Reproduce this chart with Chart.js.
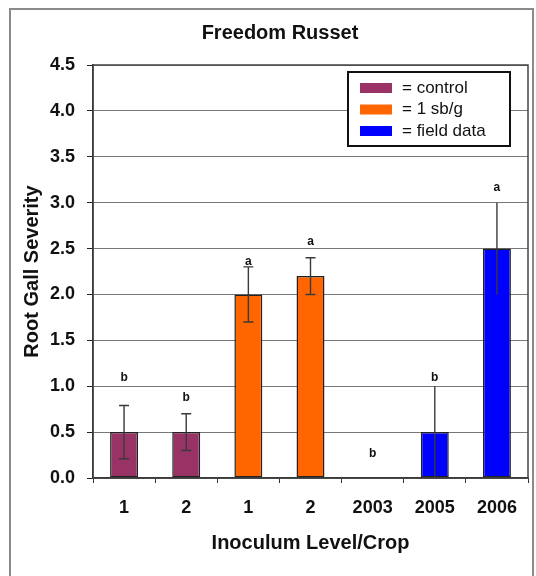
<!DOCTYPE html>
<html>
<head>
<meta charset="utf-8">
<script src="https://cdn.jsdelivr.net/npm/chart.js@4/dist/chart.umd.min.js"></script>
<style>
  html, body { margin: 0; padding: 0; background: #fff; }
  #wrap { position: relative; width: 536px; height: 576px; }
</style>
</head>
<body>
<div id="wrap"><canvas id="chart"></canvas></div>
<script>
// values
const categories = ["1", "2", "1", "2", "2003", "2005", "2006"];
const controlValues = [0.5, 0.5, null, null, null, null, null];
const sbValues = [null, null, 2.0, 2.2, null, null, null];
const fieldValues = [null, null, null, null, 0, 0.5, 2.5];
const errors = [0.29, 0.2, 0.3, 0.2, 0, 0.5, 0.5];
const letters = ["b", "b", "a", "a", "b", "b", "a"];
const letterHeights = [1.09, 0.87, 2.36, 2.58, 0.26, 1.09, 3.16];
const seriesNames = ["control", "1 sb/g", "field data"];
const yMin = 0, yMax = 4.5, yStep = 0.5;

const colors = ["#993366", "#ff6600", "#0000ff"];
const FONT = "'Liberation Sans', Arial, sans-serif";

// figure frame + plot frame
const framePlugin = {
  id: "frame",
  beforeDraw(chart) {
    const ctx = chart.ctx;
    ctx.save();
    ctx.strokeStyle = "#8a8a8a";
    ctx.lineWidth = 2;
    ctx.strokeRect(10, 9, 523, 600);
    ctx.restore();
  },
  afterDraw(chart) {
    const { ctx, chartArea: a } = chart;
    ctx.save();
    ctx.strokeStyle = "#444";
    ctx.lineWidth = 1.5;
    ctx.strokeRect(a.left, a.top, a.right - a.left, a.bottom - a.top);
    ctx.restore();
  }
};

// error bars and significance letters
const errorPlugin = {
  id: "errors",
  afterDatasetsDraw(chart) {
    const ctx = chart.ctx;
    const y = chart.scales.y, x = chart.scales.x;
    ctx.save();
    chart.data.datasets.forEach((ds, d) => {
      const meta = chart.getDatasetMeta(d);
      ds.data.forEach((v, i) => {
        if (v === null || !errors[i]) return;
        const px = meta.data[i].x;
        const top = y.getPixelForValue(v + errors[i]);
        const bot = y.getPixelForValue(Math.max(0, v - errors[i]));
        ctx.strokeStyle = "#3a3a3a";
        ctx.lineWidth = 1.4;
        ctx.beginPath();
        ctx.moveTo(px, top);
        ctx.lineTo(px, bot);
        if (ds.errorCap) {
          ctx.moveTo(px - ds.errorCap / 2, top);
          ctx.lineTo(px + ds.errorCap / 2, top);
          ctx.moveTo(px - ds.errorCap / 2, bot);
          ctx.lineTo(px + ds.errorCap / 2, bot);
        }
        ctx.stroke();
      });
    });
    ctx.fillStyle = "#111";
    ctx.font = "bold 12px " + FONT;
    ctx.textAlign = "center";
    ctx.textBaseline = "middle";
    letters.forEach((t, i) => {
      ctx.fillText(t, x.getPixelForValue(i), y.getPixelForValue(letterHeights[i]));
    });
    ctx.restore();
  }
};

// legend box inside the plot, top right
const legendPlugin = {
  id: "boxLegend",
  afterDraw(chart) {
    const ctx = chart.ctx;
    const bx = 348, by = 72, bw = 162, bh = 74;
    ctx.save();
    ctx.fillStyle = "#fff";
    ctx.fillRect(bx, by, bw, bh);
    ctx.strokeStyle = "#111";
    ctx.lineWidth = 2;
    ctx.strokeRect(bx, by, bw, bh);
    ctx.font = "17px " + FONT;
    ctx.textBaseline = "middle";
    chart.data.datasets.forEach((ds, i) => {
      const cy = by + 16 + i * 21.5;
      ctx.fillStyle = ds.backgroundColor;
      ctx.fillRect(bx + 12, cy - 5, 32, 10);
      ctx.fillStyle = "#111";
      ctx.fillText("= " + ds.label, bx + 54, cy);
    });
    ctx.restore();
  }
};

const common = { borderColor: "#222", borderWidth: 1.5, borderSkipped: false, barPercentage: 0.45, categoryPercentage: 1, grouped: false };

new Chart(document.getElementById("chart"), {
  type: "bar",
  data: {
    labels: categories,
    datasets: [
      Object.assign({ label: seriesNames[0], data: controlValues, backgroundColor: colors[0], errorCap: 10 }, common),
      Object.assign({ label: seriesNames[1], data: sbValues, backgroundColor: colors[1], errorCap: 10 }, common),
      Object.assign({ label: seriesNames[2], data: fieldValues, backgroundColor: colors[2], errorCap: 0 }, common)
    ]
  },
  options: {
    responsive: true,
    maintainAspectRatio: false,
    animation: false,
    layout: { padding: { left: 32, top: 14, right: 8, bottom: 0 } },
    plugins: {
      legend: { display: false },
      tooltip: { enabled: false },
      title: {
        display: true,
        text: "Freedom Russet",
        color: "#111",
        font: { family: FONT, size: 20, weight: "bold" },
        padding: { top: 7, bottom: 20 }
      }
    },
    scales: {
      x: {
        afterFit(scale) { scale.height = 98; },
        grid: { drawOnChartArea: false, drawTicks: true, tickLength: 5, color: "#333", offset: true },
        border: { color: "#222", width: 1.5 },
        ticks: { color: "#111", padding: 14, font: { family: FONT, size: 18, weight: "bold" } },
        title: {
          display: true,
          text: "Inoculum Level/Crop",
          color: "#111",
          font: { family: FONT, size: 20, weight: "bold" },
          padding: { top: 6, bottom: 21 }
        }
      },
      y: {
        min: yMin,
        max: yMax,
        afterFit(scale) { scale.width = 61; },
        grid: { color: "#777", lineWidth: 1, tickLength: 6, tickColor: "#222" },
        border: { color: "#222", width: 1.5 },
        ticks: {
          stepSize: yStep,
          color: "#111",
          padding: 12,
          font: { family: FONT, size: 18, weight: "bold" },
          callback: v => Number(v).toFixed(1)
        },
        title: {
          display: true,
          text: "Root Gall Severity",
          color: "#111",
          font: { family: FONT, size: 20, weight: "bold" },
          padding: { top: -12, bottom: 0 }
        }
      }
    }
  },
  plugins: [framePlugin, errorPlugin, legendPlugin]
});
</script>
</body>
</html>
